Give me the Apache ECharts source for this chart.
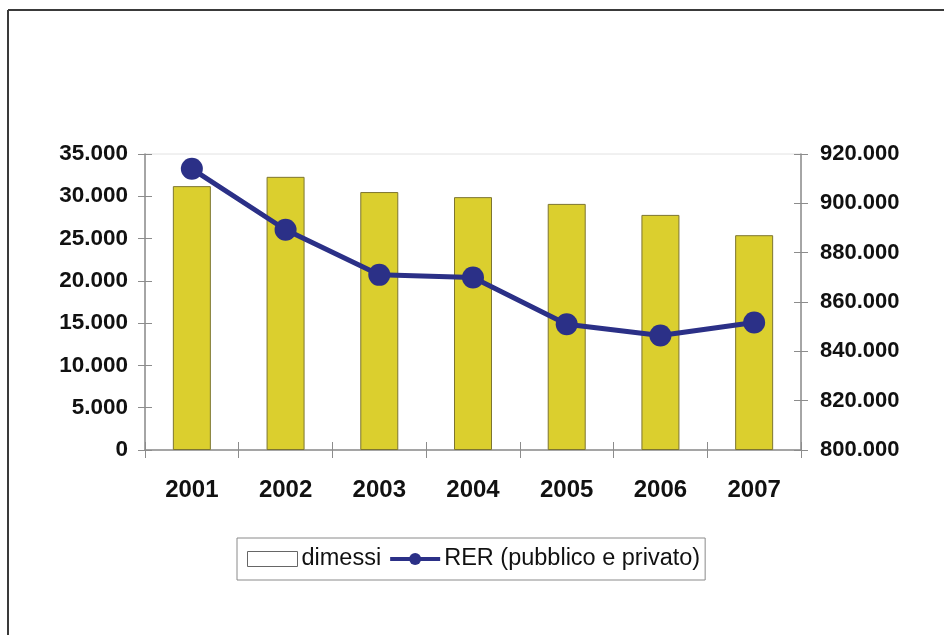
<!DOCTYPE html>
<html>
<head>
<meta charset="utf-8">
<script src="https://cdn.jsdelivr.net/npm/echarts@6/dist/echarts.min.js"></script>
<style>
  html, body { margin: 0; padding: 0; background: #fff; }
  #chart { width: 944px; height: 635px; }
</style>
</head>
<body>
<div id="chart"></div>
<script>
// Years on the horizontal axis
const years = ['2001', '2002', '2003', '2004', '2005', '2006', '2007'];
// Dimessi (bars, left axis)
const dimessi = [31200, 32300, 30500, 29900, 29100, 27800, 25400];
// RER, pubblico e privato (line, right axis)
const rer = [914000, 889300, 871000, 869900, 851000, 846400, 851700];

const leftAxis = { min: 0, max: 35000, interval: 5000 };
const rightAxis = { min: 800000, max: 920000, interval: 20000 };

const fmt = v => String(Math.round(v)).replace(/\B(?=(\d{3})+(?!\d))/g, '.');

const font = 'Liberation Sans, Arial, sans-serif';
const axisGray = '#8c8c8c';

const chart = echarts.init(document.getElementById('chart'), null, { renderer: 'canvas' });

// Companion axes that only draw the inner half of each tick, so ticks cross the axis line
const innerTickY = (cfg, pos) => ({
  type: 'value', position: pos, min: cfg.min, max: cfg.max, interval: cfg.interval,
  axisLine: { show: false }, axisLabel: { show: false }, splitLine: { show: false },
  axisTick: { show: true, inside: true, length: 7, lineStyle: { color: axisGray, width: 1 } }
});

chart.setOption({
  backgroundColor: '#fff',
  animation: false,
  grid: {
    left: 145, right: 143, top: 154, bottom: 185,
    show: true, borderColor: '#e2e2e2', borderWidth: 1, backgroundColor: 'transparent'
  },
  graphic: [
    { type: 'line', shape: { x1: 8, y1: 10, x2: 944, y2: 10 }, style: { stroke: '#3a3a3a', lineWidth: 2 } },
    { type: 'line', shape: { x1: 8, y1: 10, x2: 8, y2: 635 }, style: { stroke: '#3a3a3a', lineWidth: 2 } }
  ],
  legend: {
    left: 237, top: 538,
    padding: [9, 5, 9, 10],
    itemGap: 7,
    itemWidth: 50, itemHeight: 15,
    borderColor: '#8a8a8a', borderWidth: 1,
    textStyle: { fontFamily: font, fontSize: 23.5, color: '#111', padding: [0, 0, 0, -1] },
    data: [
      { name: 'dimessi', icon: 'rect', itemStyle: { color: '#fff', borderColor: '#666', borderWidth: 1 } },
      { name: 'RER (pubblico e privato)', lineStyle: { width: 4 } }
    ]
  },
  xAxis: [{
    type: 'category', data: years, boundaryGap: true,
    axisLine: { lineStyle: { color: axisGray, width: 1.5 } },
    axisTick: { show: true, length: 8, lineStyle: { color: axisGray, width: 1 } },
    axisLabel: { margin: 28, fontFamily: font, fontWeight: 'bold', fontSize: 24, color: '#111' }
  }, {
    type: 'category', data: years, boundaryGap: true, position: 'bottom',
    axisLine: { show: false }, axisLabel: { show: false },
    axisTick: { show: true, inside: true, length: 8, lineStyle: { color: axisGray, width: 1 } }
  }],
  yAxis: [{
    type: 'value', position: 'left',
    min: leftAxis.min, max: leftAxis.max, interval: leftAxis.interval,
    axisLine: { show: true, lineStyle: { color: axisGray, width: 1.5 } },
    axisTick: { show: true, length: 7, lineStyle: { color: axisGray, width: 1 } },
    splitLine: { show: false },
    axisLabel: { margin: 17, formatter: fmt, fontFamily: font, fontWeight: 'bold', fontSize: 22.5, color: '#111' }
  }, {
    type: 'value', position: 'right',
    min: rightAxis.min, max: rightAxis.max, interval: rightAxis.interval,
    axisLine: { show: true, lineStyle: { color: axisGray, width: 1.5 } },
    axisTick: { show: true, length: 7, lineStyle: { color: axisGray, width: 1 } },
    splitLine: { show: false },
    axisLabel: { margin: 19, formatter: fmt, fontFamily: font, fontWeight: 'bold', fontSize: 22, color: '#111' }
  },
  innerTickY(leftAxis, 'left'),
  innerTickY(rightAxis, 'right')],
  series: [{
    name: 'dimessi',
    type: 'bar',
    xAxisIndex: 0, yAxisIndex: 0,
    data: dimessi,
    barWidth: 38,
    itemStyle: { color: '#dbcf2e', borderColor: '#7d7530', borderWidth: 1 },
    z: 2
  }, {
    name: 'RER (pubblico e privato)',
    type: 'line',
    xAxisIndex: 0, yAxisIndex: 1,
    data: rer,
    symbol: 'circle', symbolSize: 22,
    lineStyle: { color: '#2b3087', width: 5 },
    itemStyle: { color: '#2b3087' },
    z: 3
  }]
});
</script>
</body>
</html>
